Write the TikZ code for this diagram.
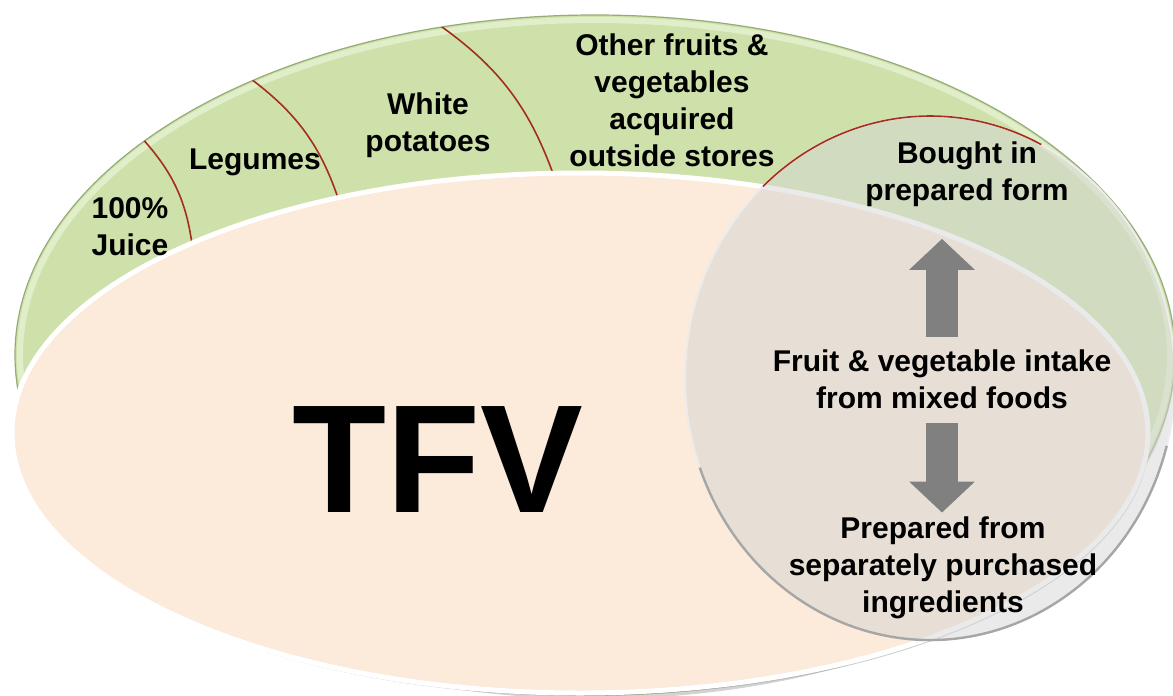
\documentclass[tikz,border=0pt]{standalone}
\usepackage{fontspec}
\setmainfont{Liberation Sans}
\usetikzlibrary{arrows.meta,shadows}

\definecolor{bandgreen}{RGB}{206,225,170}
\definecolor{rimgreen}{RGB}{225,238,202}
\definecolor{edgegreen}{RGB}{150,172,120}
\definecolor{peach}{RGB}{252,234,218}
\definecolor{divred}{RGB}{165,45,30}
\definecolor{lensgray}{RGB}{212,214,212}
\definecolor{arrowgray}{RGB}{128,128,128}

\begin{document}
\begin{tikzpicture}[x=0.5pt,y=-0.5pt,
  lbl/.style={font=\fontsize{15}{18.5}\selectfont\bfseries, align=center, inner sep=0pt},
  divider/.style={divred, line width=0.8pt},
  blockarrow/.style={arrowgray, line width=16pt, -{Triangle[length=15.5pt,width=32pt]}}]
\useasboundingbox (0,0) rectangle (1173,696);

% outer green band
\fill[bandgreen, drop shadow={opacity=.35,shadow xshift=0pt,shadow yshift=-2pt}] (595,355) ellipse [x radius=580, y radius=340];
\draw[rimgreen, line width=3pt] (595,355) ellipse [x radius=575, y radius=335];
\draw[edgegreen, line width=0.6pt] (595,355) ellipse [x radius=580, y radius=340];

% dividers in the band
\begin{scope}
  \clip (595,355) ellipse [x radius=580, y radius=340];
  \draw[divider] (140,136) to[bend left=18] (193,252);
  \draw[divider] (247,76) to[bend left=18] (341,207);
  \draw[divider] (435,22) to[bend left=18] (556,182);
\end{scope}

% TFV ellipse
\filldraw[fill=peach, draw=white, line width=2.5pt, drop shadow={opacity=.4,shadow xshift=1pt,shadow yshift=-1.5pt}] (580,433) ellipse [x radius=568, y radius=260];

% mixed foods lens
\filldraw[fill=lensgray, fill opacity=.5, draw=white!85!gray, line width=1pt] (930,378) ellipse [x radius=245, y radius=262];
\draw[gray!70, line width=1.2pt] (1166.7,445.8) arc[start angle=15, end angle=160, x radius=245, y radius=262];
\draw[divider] (763,186.4) arc[start angle=-133, end angle=-63, x radius=245, y radius=262];

% labels
\node[lbl] (juice) at (130,227) {100\%\\Juice};
\node[lbl] (legumes) at (255,162) {Legumes};
\node[lbl] (potatoes) at (428,125) {White\\potatoes};
\node[lbl] (other) at (672,100) {Other fruits \&\\vegetables\\acquired\\outside stores};
\node[lbl] (bought) at (967,174) {Bought in\\prepared form};
\node[font=\fontsize{77}{77}\selectfont\bfseries, inner sep=0pt] (tfv) at (438,460) {TFV};
\node[lbl] (mixed) at (942,379) {Fruit \& vegetable intake\\from mixed foods};
\node[lbl] (prepared) at (943,568) {Prepared from\\separately purchased\\ingredients};

% arrows
\draw[blockarrow, shorten <=6pt, shorten >=16pt] (mixed.north) -- (mixed.north |- bought.south);
\draw[blockarrow, shorten <=7pt, shorten >=2pt] (mixed.south) -- (mixed.south |- prepared.north);

\end{tikzpicture}
\end{document}
